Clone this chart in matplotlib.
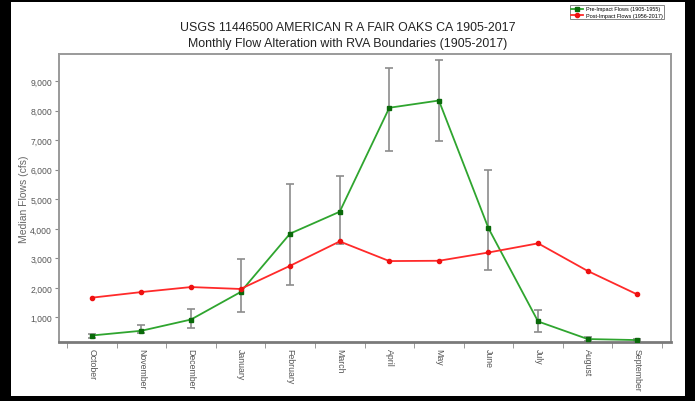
import numpy as np
import matplotlib.pyplot as plt
from matplotlib.patches import Rectangle

plt.rcParams['font.family'] = ['Liberation Sans', 'DejaVu Sans']

months = ['October', 'November', 'December', 'January', 'February', 'March',
          'April', 'May', 'June', 'July', 'August', 'September']

# median monthly flows (cfs)
pre_median = [390, 550, 930, 1860, 3840, 4580, 8100, 8345, 4020, 865, 270, 235]
pre_low = [315, 480, 640, 1180, 2100, 3490, 6640, 6980, 2620, 525, 210, 195]
pre_high = [445, 740, 1295, 2980, 5520, 5780, 9430, 9725, 6005, 1240, 335, 270]
post_median = [1670, 1860, 2030, 1965, 2750, 3575, 2910, 2920, 3200, 3510, 2575, 1780]

yticks = [1000, 2000, 3000, 4000, 5000, 6000, 7000, 8000, 9000]

fig = plt.figure(figsize=(6.95, 4.02), dpi=100, facecolor='black')
# white page inside the dark frame
fig.patches.append(Rectangle((11 / 695, 1 - 397 / 402), 674 / 695, 394 / 402,
                             transform=fig.transFigure, facecolor='white',
                             edgecolor='none', zorder=-5))

ax = fig.add_axes([59 / 695, 1 - 343 / 402, 612 / 695, 288 / 402])
ax.set_zorder(2)
x = np.arange(len(months))

pre = np.array(pre_median)
yerr = [pre - np.array(pre_low), np.array(pre_high) - pre]
ax.errorbar(x, pre, yerr=yerr, fmt='none', ecolor='#8c8c8c', elinewidth=1.2,
            capsize=3, capthick=1.2, zorder=2)
ax.plot(x, pre_median, color='#2fa52f', lw=1.3, marker='s', ms=3,
        mfc='#0a6a0a', mec='#0a6a0a', label='Pre-Impact Flows (1905-1955)', zorder=3)
ax.plot(x, post_median, color='#ff2a2a', lw=1.3, marker='o', ms=3,
        mfc='#ee1010', mec='#ee1010', label='Post-Impact Flows (1956-2017)', zorder=3)

ax.set_xlim(-0.66, 11.68)
ax.set_ylim(170, 9920)
ax.set_yticks(yticks)
ax.set_yticklabels([f'{v:,}' for v in yticks], fontsize=6.2, color='#555555')
ax.set_xticks(x)
ax.set_xticklabels(months, rotation=-90, fontsize=6.3, color='#555555', va='top')
ax.set_xticks(np.arange(-0.5, 12, 1), minor=True)
ax.tick_params(axis='x', which='major', length=0, pad=4)
ax.tick_params(axis='x', which='minor', length=4, color='#888888', direction='out')
ax.tick_params(axis='y', length=3, color='#888888', direction='out', pad=2)

for side in ['left', 'right', 'top']:
    ax.spines[side].set_color('#9a9a9a')
    ax.spines[side].set_linewidth(1.4)
ax.spines['bottom'].set_color('#7a7a7a')
ax.spines['bottom'].set_linewidth(2)

ax.set_ylabel('Median Flows (cfs)', fontsize=7.5, color='#666666')
ax.yaxis.set_label_coords(-30 / 612, 0.5)

fig.text(0.5, 1 - 28 / 402, 'USGS 11446500 AMERICAN R A FAIR OAKS CA 1905-2017',
         ha='center', va='center', fontsize=8.9, color='#222222')
fig.text(0.5, 1 - 44 / 402, 'Monthly Flow Alteration with RVA Boundaries (1905-2017)',
         ha='center', va='center', fontsize=8.9, color='#222222')

leg = fig.legend(loc='upper right', bbox_to_anchor=(667 / 695, 1 - 3 / 402),
                 fontsize=4, frameon=True, fancybox=False, borderpad=0.3,
                 handlelength=2.2, handletextpad=0.4, labelspacing=0.2,
                 edgecolor='#666666')
leg.get_frame().set_linewidth(0.7)

fig.savefig('out.png', dpi=100, facecolor=fig.get_facecolor())
